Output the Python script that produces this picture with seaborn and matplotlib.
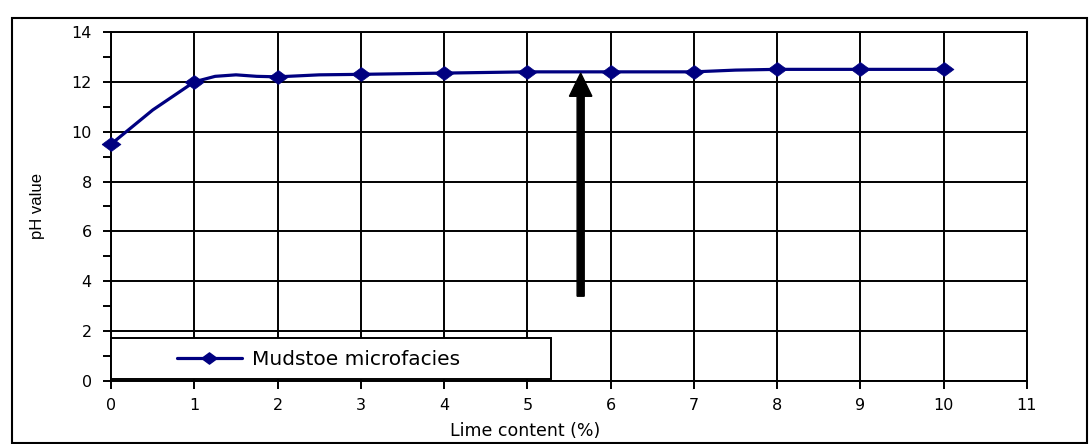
import matplotlib
matplotlib.use("Agg")
import matplotlib.pyplot as plt
import seaborn as sns
import pandas as pd
from matplotlib.patches import Rectangle, FancyArrow

# 数据
lime = [0, 1, 2, 3, 4, 5, 6, 7, 8, 9, 10]
ph = [9.5, 12.0, 12.2, 12.3, 12.35, 12.4, 12.4, 12.4, 12.5, 12.5, 12.5]
# 平滑曲线读数（Excel 平滑线）
lime_curve = [0, 0.5, 1, 1.25, 1.5, 1.75, 2, 2.5, 3, 4, 5, 6, 7, 7.5, 8, 9, 10]
ph_curve = [9.5, 10.87, 12.0, 12.22, 12.28, 12.22, 12.2, 12.28, 12.3, 12.35, 12.4,
            12.4, 12.4, 12.47, 12.5, 12.5, 12.5]
series_name = "Mudstoe microfacies"
arrow_x = 5.64
arrow_from = 3.4
arrow_to = 12.35

sns.set_theme(style="white")
plt.rcParams["font.family"] = ["DejaVu Sans"]
plt.rcParams["text.color"] = "black"
plt.rcParams["axes.labelcolor"] = "black"
plt.rcParams["xtick.color"] = "black"
plt.rcParams["ytick.color"] = "black"

df = pd.DataFrame({"lime": lime, "ph": ph})
curve = pd.DataFrame({"lime": lime_curve, "ph": ph_curve})

fig = plt.figure(figsize=(10.89, 4.44), dpi=100)
ax = fig.add_axes([0.102, 0.142, 0.841, 0.786])

navy = "#000080"
# 宽菱形标记
wide_diamond = [(-1.35, 0), (0, 1), (1.35, 0), (0, -1), (-1.35, 0)]

sns.lineplot(data=curve, x="lime", y="ph", ax=ax, color=navy, linewidth=2.3,
             sort=False, estimator=None)
sns.scatterplot(data=df, x="lime", y="ph", ax=ax, color=navy, marker=wide_diamond,
                s=185, edgecolor=navy, linewidth=0.5, zorder=5, clip_on=False)

ax.set_xlim(0, 11)
ax.set_ylim(0, 14)
ax.set_xticks(range(0, 12))
ax.set_yticks(range(0, 15, 2))
ax.set_yticks(range(1, 14, 2), minor=True)
ax.grid(True, which="major", color="black", linewidth=1.4)
ax.tick_params(axis="both", which="major", direction="out", length=6, width=1.4,
               color="black", labelcolor="black", labelsize=11.5, left=True, bottom=True)
ax.tick_params(axis="y", which="major", pad=8)
ax.tick_params(axis="x", which="major", pad=6)
ax.tick_params(axis="y", which="minor", direction="out", length=6, width=1.4,
               color="black", left=True)
for s in ax.spines.values():
    s.set_color("black")
    s.set_linewidth(1.4)

ax.set_xlabel("Lime content (%)", fontsize=12.5, labelpad=7, color="black")
ax.xaxis.label.set_x(0.452)
ax.set_ylabel("pH value", fontsize=12, labelpad=19, color="black",
              family=["Liberation Sans", "DejaVu Sans"])

# 箭头
ax.add_patch(FancyArrow(arrow_x, arrow_from, 0, arrow_to - arrow_from,
                        width=0.085, head_width=0.27, head_length=0.93,
                        length_includes_head=True, color="black", zorder=6))

# 图例框
ax.add_patch(Rectangle((0, 0.08), 5.28, 1.64, facecolor="white", edgecolor="black",
                       linewidth=1.4, zorder=7, clip_on=False))
ax.plot([0.79, 1.57], [0.92, 0.92], color=navy, linewidth=2.3, zorder=8)
ax.scatter([1.18], [0.92], color=navy, marker=wide_diamond, s=120, zorder=9)
ax.text(1.69, 0.88, series_name, fontsize=14.5, va="center", ha="left",
        color="black", zorder=9)

# 外框
fig.patches.append(Rectangle((0.011, 0.002), 0.987, 0.958, transform=fig.transFigure,
                             fill=False, edgecolor="black", linewidth=1.5))

fig.savefig("out.png", dpi=100)
